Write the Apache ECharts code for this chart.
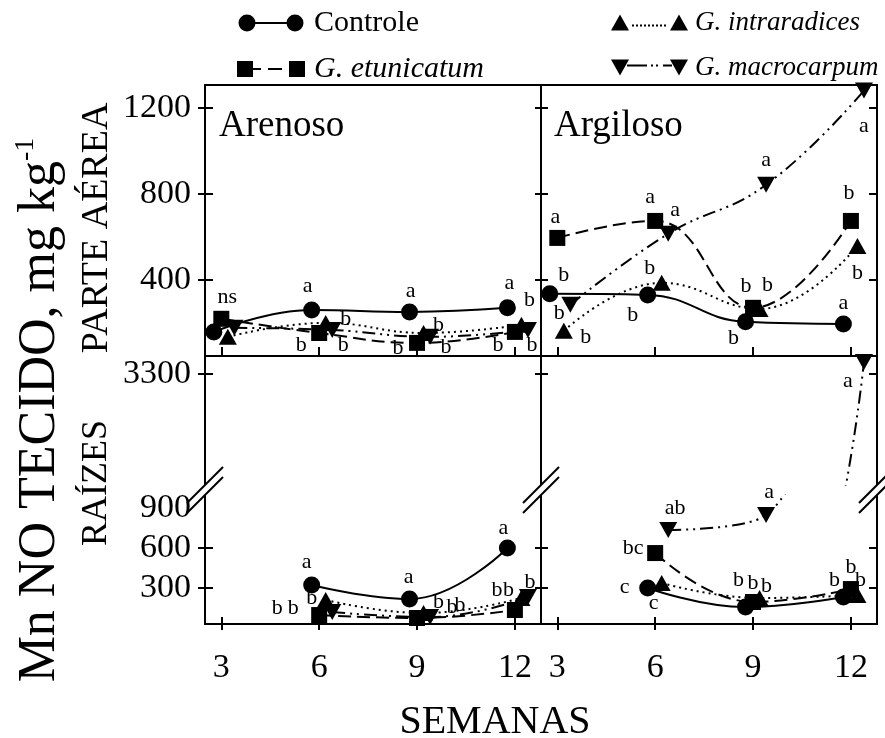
<!DOCTYPE html>
<html>
<head>
<meta charset="utf-8">
<script src="https://cdn.jsdelivr.net/npm/echarts@6/dist/echarts.min.js"></script>
<style>
  html, body { margin: 0; padding: 0; background: #fff; }
  #chart { width: 885px; height: 738px; }
</style>
</head>
<body>
<div id="chart"></div>
<script>
const treatments = ['Controle', 'G. etunicatum', 'G. intraradices', 'G. macrocarpum'];
const weeksParte = [3, 6, 9, 12];
const weeksRaiz = [6, 9, 12];
const weekTicks = [3, 6, 9, 12];
const parteTicks = [400, 800, 1200];
const raizTicksLow = [300, 600];
const raizLabelsLow = [300, 600, 900];
const raizTicksHigh = [3300];

// Mn no tecido (mg/kg); rows = Controle, G. etunicatum, G. intraradices, G. macrocarpum
const arenosoParte = [
  [158, 260, 251, 270],
  [219, 153, 107, 158],
  [135, 200, 153, 191],
  [177, 167, 135, 167]
];
const argilosoParte = [
  [335, 330, 205, 195],
  [595, 674, 270, 674],
  [163, 386, 265, 558],
  [284, 614, 842, 1280]
];
const arenosoRaiz = [
  [322, 217, 600],
  [97, 75, 135],
  [210, 112, 225],
  [120, 82, 232]
];
const argilosoRaiz = [
  [300, 157, 232],
  [562, 195, 292],
  [337, 225, 247],
  [735, 847, 3390]
];

// letters of the means test
const arenosoParteLetras = [
  ['', 'a', 'a', 'a'],
  ['ns', 'b', 'b', 'b'],
  ['', 'b', 'b', 'b'],
  ['', 'b', 'b', 'b']
];
const argilosoParteLetras = [
  ['b', 'b', 'b', 'a'],
  ['a', 'a', 'b', 'b'],
  ['b', 'b', 'b', 'b'],
  ['b', 'a', 'a', 'a']
];
const arenosoRaizLetras = [
  ['a', 'a', 'a'],
  ['b', 'b', 'b'],
  ['b', 'b', 'b'],
  ['b', 'b', 'b']
];
const argilosoRaizLetras = [
  ['c', 'b', 'b'],
  ['bc', 'b', 'b'],
  ['c', 'b', 'b'],
  ['ab', 'a', 'a']
];

// ---- styling ----
const FONT = 'Liberation Serif';
const dodge = [-0.23, 0, 0.2, 0.4];  // horizontal shift of each treatment
const symbols = ['circle', 'rect', 'triangle', 'triangle'];
const symbolRot = [0, 0, 0, 180];
const symbolSizes = [17, 16, [18, 16], [18, 16]];
const dashes = ['solid', [13, 6], [2, 4], [13, 5, 2, 5, 2, 5]];

// label offsets (px from the point)
const arenosoParteOff = [
  [null, [-4, -24], [1, -21], [2, -25]],
  [[6, -22], [-18, 12], [-19, 5], [-17, 13]],
  [null, [20, -4], [15, -8], [8, -25]],
  [null, [11, 15], [16, 10], [4, 15]]
];
const argilosoParteOff = [
  [[14, -19], [-15, 20], [-12, 16], [0, -21]],
  [[-2, -21], [-5, -24], [-7, -22], [-2, -28]],
  [[22, 6], [-12, -15], [8, -24], [0, 27]],
  [[-11, 8], [7, -24], [0, -25], [0, 36]]
];
const arenosoRaizOff = [
  [[-5, -23], [-1, -22], [-4, -20]],
  [[-26, -7], [35, -11], [-18, -20]],
  [[-14, -2], [15, -11], [-13, -8]],
  [[-55, -4], [30, -12], [2, -15]]
];
const argilosoRaizOff = [
  [[-23, -1], [-7, -27], [-9, -17]],
  [[-22, -5], [0, -19], [0, -22]],
  [[-8, 20], [7, -12], [3, -15]],
  [[7, -22], [3, -23], [-16, 19]]
];

const xMin = 2.5, xMax = 12.8;
const parteMin = 46, parteMax = 1306;
const lowMin = 30, lowMax = 997.5;
const highMin = 2467.5, highMax = 3435;

const tickStyle = { color: '#000', width: 2 };
const labelStyle = { color: '#000', fontFamily: FONT, fontSize: 34, formatter: v => String(v) };

function dots(x0, x1, y, step) {
  let p = '';
  for (let x = x0; x + 2 <= x1; x += step) p += 'M' + x + ',' + y + 'L' + (x + 2) + ',' + y + 'L' + (x + 2) + ',' + (y + 2) + 'L' + x + ',' + (y + 2) + 'Z';
  return p;
}
const iconCtrl = 'path://M0,8.5A8.5,8.5,0,1,1,17,8.5A8.5,8.5,0,1,1,0,8.5Z' +
  'M48,8.5A8.5,8.5,0,1,1,65,8.5A8.5,8.5,0,1,1,48,8.5Z' +
  'M16,7.5L49,7.5L49,9.5L16,9.5Z';
const iconEtun = 'path://M0,0L16,0L16,16L0,16Z M52,0L68,0L68,16L52,16Z' +
  'M16,7L24,7L24,9L16,9Z M31,7L45,7L45,9L31,9Z';
const iconIntra = 'path://M0,16L9,0L18,16Z M59,16L68,0L77,16Z' + dots(21, 57, 10, 4);
const iconMacro = 'path://M0,0L18,0L9,16Z M59,0L77,0L68,16Z' +
  'M16,5L36,5L36,7L16,7Z' + dots(40, 50, 5, 5) + 'M52,5L61,5L61,7L52,7Z';

function makeSeries(rows, weeks, letters, offsets, xAxisIndex, yAxisIndex) {
  return rows.map((vals, i) => ({
    name: treatments[i],
    type: 'line',
    xAxisIndex: xAxisIndex,
    yAxisIndex: yAxisIndex,
    smooth: 0.45,
    symbol: symbols[i],
    symbolSize: symbolSizes[i],
    symbolRotate: symbolRot[i],
    lineStyle: { color: '#000', width: 2, type: dashes[i] },
    itemStyle: { color: '#000' },
    emphasis: { disabled: true },
    data: vals.map((v, j) => ({
      value: [weeks[j] + dodge[i], v],
      label: letters[i][j] ? {
        show: true, formatter: letters[i][j], position: 'inside',
        offset: offsets[i][j], fontFamily: FONT, fontSize: 22, color: '#000'
      } : { show: false }
    }))
  }));
}

function xAxisDef(gridIndex, kind) {
  const a = { gridIndex: gridIndex, type: 'value', min: xMin, max: xMax, splitLine: { show: false } };
  if (kind === 'hidden') { a.show = false; return a; }
  a.axisLine = { show: false };
  if (kind === 'top') {
    a.axisTick = { inside: true, length: 9, lineStyle: tickStyle, customValues: weekTicks };
    a.axisLabel = { show: false };
  } else {
    a.offset = -7;
    a.axisTick = { inside: false, length: 13, lineStyle: tickStyle, customValues: weekTicks };
    a.axisLabel = Object.assign({ customValues: weekTicks, margin: 34 }, labelStyle);
  }
  return a;
}

function yAxisDef(gridIndex, min, max, kind, ticks, labels) {
  const a = { gridIndex: gridIndex, type: 'value', min: min, max: max, splitLine: { show: false }, axisLine: { show: false } };
  if (kind === 'hidden') { a.show = false; return a; }
  if (kind === 'left') {
    a.position = 'left';
    a.offset = -8;
    a.axisTick = { inside: false, length: 15, lineStyle: tickStyle, customValues: ticks };
    a.axisLabel = Object.assign({ customValues: labels, margin: 22 }, labelStyle);
  } else if (kind === 'mid') {
    a.position = 'right';
    a.offset = -6;
    a.axisTick = { inside: false, length: 13, lineStyle: tickStyle, customValues: ticks };
    a.axisLabel = { show: false };
  } else {
    a.position = 'right';
    a.axisTick = { inside: true, length: 8, lineStyle: tickStyle, customValues: ticks };
    a.axisLabel = { show: false };
  }
  return a;
}

const frame = { show: true, borderColor: '#000', borderWidth: 2, backgroundColor: 'transparent' };
const grids = [
  Object.assign({ left: 205, top: 85, width: 336, height: 271 }, frame),
  Object.assign({ left: 541, top: 85, width: 336, height: 271 }, frame),
  Object.assign({ left: 205, top: 356, width: 336, height: 268 }, frame),
  Object.assign({ left: 541, top: 356, width: 336, height: 268 }, frame),
  { left: 205, top: 356, width: 336, height: 129 },
  { left: 205, top: 495, width: 336, height: 129 },
  { left: 541, top: 356, width: 336, height: 129 },
  { left: 541, top: 495, width: 336, height: 129 }
];

const xAxes = [
  xAxisDef(0, 'top'), xAxisDef(1, 'top'), xAxisDef(2, 'hidden'), xAxisDef(3, 'hidden'),
  xAxisDef(4, 'hidden'), xAxisDef(5, 'bottom'), xAxisDef(6, 'hidden'), xAxisDef(7, 'bottom')
];
const yAxes = [
  yAxisDef(0, parteMin, parteMax, 'left', parteTicks, parteTicks),   // 0
  yAxisDef(0, parteMin, parteMax, 'mid', parteTicks),                // 1
  yAxisDef(1, parteMin, parteMax, 'hidden'),                         // 2
  yAxisDef(1, parteMin, parteMax, 'right', parteTicks),              // 3
  yAxisDef(2, 0, 1, 'hidden'),                                       // 4
  yAxisDef(3, 0, 1, 'hidden'),                                       // 5
  yAxisDef(4, highMin, highMax, 'left', raizTicksHigh, raizTicksHigh), // 6
  yAxisDef(4, highMin, highMax, 'mid', raizTicksHigh),               // 7
  yAxisDef(5, lowMin, lowMax, 'left', raizTicksLow, raizLabelsLow),  // 8
  yAxisDef(5, lowMin, lowMax, 'mid', raizTicksLow),                  // 9
  yAxisDef(6, highMin, highMax, 'hidden'),                           // 10
  yAxisDef(6, highMin, highMax, 'right', raizTicksHigh),             // 11
  yAxisDef(7, lowMin, lowMax, 'hidden'),                             // 12
  yAxisDef(7, lowMin, lowMax, 'right', raizTicksLow)                 // 13
];

const series = [].concat(
  makeSeries(arenosoParte, weeksParte, arenosoParteLetras, arenosoParteOff, 0, 0),
  makeSeries(argilosoParte, weeksParte, argilosoParteLetras, argilosoParteOff, 1, 2),
  makeSeries(arenosoRaiz, weeksRaiz, arenosoRaizLetras, arenosoRaizOff, 4, 6),
  makeSeries(arenosoRaiz, weeksRaiz, arenosoRaizLetras, arenosoRaizOff, 5, 8),
  makeSeries(argilosoRaiz, weeksRaiz, argilosoRaizLetras, argilosoRaizOff, 6, 10),
  makeSeries(argilosoRaiz, weeksRaiz, argilosoRaizLetras, argilosoRaizOff, 7, 12)
);

// axis break marks "//"
function breakMark(x, y) {
  return {
    type: 'group', z: 100,
    children: [
      { type: 'polygon', shape: { points: [[x - 6, y + 1], [x + 6, y - 11], [x + 6, y - 1], [x - 6, y + 11]] }, style: { fill: '#fff' } },
      { type: 'line', shape: { x1: x - 18, y1: y + 13, x2: x + 18, y2: y - 23 }, style: { stroke: '#000', lineWidth: 2 } },
      { type: 'line', shape: { x1: x - 18, y1: y + 23, x2: x + 18, y2: y - 13 }, style: { stroke: '#000', lineWidth: 2 } }
    ]
  };
}

function txt(text, x, y, size, align, rotation) {
  return {
    type: 'text', x: x, y: y, z: 50, rotation: rotation || 0,
    style: { text: text, fontFamily: FONT, fontSize: size, fill: '#000', textAlign: align || 'center', textVerticalAlign: 'middle' }
  };
}

const chart = echarts.init(document.getElementById('chart'));
chart.setOption({
  animation: false,
  backgroundColor: '#fff',
  legend: [
    {
      left: 232, top: 3, orient: 'vertical', itemGap: 16, itemWidth: 68, itemHeight: 17, selectedMode: false,
      textStyle: { fontFamily: FONT, fontSize: 30, color: '#000', padding: [0, 0, 0, 4] },
      data: [
        { name: 'Controle', icon: iconCtrl },
        { name: 'G. etunicatum', icon: iconEtun, textStyle: { fontStyle: 'italic' } }
      ]
    },
    {
      left: 606, top: 4, orient: 'vertical', itemGap: 18, itemWidth: 77, itemHeight: 16, selectedMode: false,
      textStyle: { fontFamily: FONT, fontSize: 27, color: '#000', fontStyle: 'italic', padding: [0, 0, 0, 2] },
      data: [
        { name: 'G. intraradices', icon: iconIntra },
        { name: 'G. macrocarpum', icon: iconMacro }
      ]
    }
  ],
  grid: grids,
  xAxis: xAxes,
  yAxis: yAxes,
  series: series,
  graphic: [
    breakMark(205, 490), breakMark(541, 490), breakMark(877, 490),
    txt('Arenoso', 219, 126, 37, 'left'),
    txt('Argiloso', 554, 126, 37, 'left'),
    txt('SEMANAS', 495, 722, 40),
    txt('PARTE AÉREA', 97, 228, 38, 'center', Math.PI / 2),
    txt('RAÍZES', 97, 483, 36, 'center', Math.PI / 2),
    {
      type: 'text', x: 40, y: 410, z: 50, rotation: Math.PI / 2,
      style: {
        text: '{m|Mn NO TECIDO, mg kg}{s|-1}',
        textAlign: 'center', textVerticalAlign: 'middle',
        rich: {
          m: { fontFamily: FONT, fontSize: 52, fill: '#000', lineHeight: 56 },
          s: { fontFamily: FONT, fontSize: 28, fill: '#000', verticalAlign: 'top', lineHeight: 28 }
        }
      }
    }
  ]
});
</script>
</body>
</html>
